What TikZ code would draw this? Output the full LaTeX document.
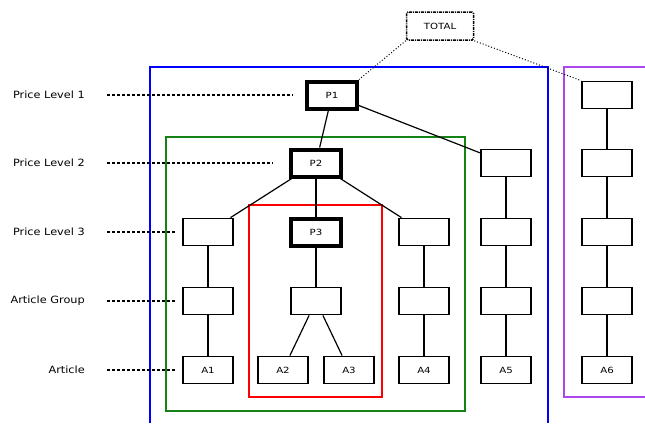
\documentclass[tikz,border=0pt]{standalone}
\usepackage{fontspec}
\setmainfont{DejaVu Sans}
\newfontfamily\lblfont[FakeStretch=1.13]{DejaVu Sans}
\newfontfamily\boxfont[FakeStretch=1.2]{DejaVu Sans}
\begin{document}
\begin{tikzpicture}[x=1pt,y=-1pt,
  bx/.style={draw,line width=1.8pt,fill=white,minimum width=50pt,minimum height=27pt,inner sep=0pt,font=\boxfont\fontsize{8.5}{9}\selectfont},
  pbx/.style={bx,line width=4pt},
  lbl/.style={anchor=east,font=\lblfont\fontsize{10}{11}\selectfont,inner sep=0pt},
  lvl/.style={line width=1.3pt,dash pattern=on 3pt off 2pt},
  ed/.style={line width=1.2pt},
  vd/.style={line width=2pt},
  tot/.style={dotted,line width=1pt}]
\useasboundingbox (0,0) rectangle (645,423);
% frames
\draw[blue,line width=1.8pt] (150,423) -- (150,67) -- (548,67) -- (548,423);
\draw[color={rgb,255:red,170;green,70;blue,235},line width=1.8pt] (645,397) -- (564,397) -- (564,67) -- (645,67);
\draw[color={rgb,255:red,20;green,130;blue,20},line width=1.8pt] (166,137) rectangle (465,411);
\draw[red,line width=1.8pt] (249,205) rectangle (382,397);
% labels
\node[lbl] (L1) at (85,95) {Price Level 1};
\node[lbl] (L2) at (85,163) {Price Level 2};
\node[lbl] (L3) at (85,232) {Price Level 3};
\node[lbl] (L4) at (85,301) {Article Group};
\node[lbl] (L5) at (85,370) {Article};
\coordinate (E1) at (293,95);
\coordinate (E2) at (273,163);
\coordinate (E3) at (176,232);
\coordinate (E4) at (176,301);
\coordinate (E5) at (176,370);
\coordinate (S1) at (107,95);
\coordinate (S2) at (107,163);
\coordinate (S3) at (107,232);
\coordinate (S4) at (107,301);
\coordinate (S5) at (107,370);
\foreach \i in {1,...,5}{\draw[lvl] (S\i) -- (E\i);}
% nodes
\node[draw,line width=1.5pt,dash pattern=on 3pt off 1pt on 1pt off 1pt,rounded corners=1.5pt,minimum width=67pt,minimum height=28pt,inner sep=0pt,font=\boxfont\fontsize{8.5}{9}\selectfont] (T) at (440,26) {TOTAL};
\node[pbx] (P1) at (332,95) {P1};
\node[bx] (C6a) at (607,95) {};
\node[pbx] (P2) at (316,163) {P2};
\node[bx] (C5b) at (506,163) {};
\node[bx] (C6b) at (607,163) {};
\node[bx] (C1c) at (208,232) {};
\node[pbx] (P3) at (316,232) {P3};
\node[bx] (C4c) at (424,232) {};
\node[bx] (C5c) at (506,232) {};
\node[bx] (C6c) at (607,232) {};
\node[bx] (C1d) at (208,301) {};
\node[bx] (C3d) at (316,301) {};
\node[bx] (C4d) at (424,301) {};
\node[bx] (C5d) at (506,301) {};
\node[bx] (C6d) at (607,301) {};
\node[bx] (A1) at (208,370) {A1};
\node[bx] (A2) at (283,370) {A2};
\node[bx] (A3) at (349,370) {A3};
\node[bx] (A4) at (424,370) {A4};
\node[bx] (A5) at (506,370) {A5};
\node[bx] (A6) at (607,370) {A6};
% connectors
\draw[tot] (T.south west) -- (P1.north east);
\draw[tot] (T.south east) -- (C6a.north west);
\draw[ed] (P1) -- (P2);
\draw[ed] (P1) -- (C5b);
\draw[ed] (P2) -- (C1c);
\draw[vd] (P2) -- (P3);
\draw[ed] (P2) -- (C4c);
\draw[ed] (C3d) -- (A2);
\draw[ed] (C3d) -- (A3);
\draw[vd] (P3) -- (C3d);
\draw[vd] (C1c) -- (C1d);
\draw[vd] (C1d) -- (A1);
\draw[vd] (C4c) -- (C4d);
\draw[vd] (C4d) -- (A4);
\draw[vd] (C5b) -- (C5c);
\draw[vd] (C5c) -- (C5d);
\draw[vd] (C5d) -- (A5);
\draw[vd] (C6a) -- (C6b);
\draw[vd] (C6b) -- (C6c);
\draw[vd] (C6c) -- (C6d);
\draw[vd] (C6d) -- (A6);
\end{tikzpicture}
\end{document}
